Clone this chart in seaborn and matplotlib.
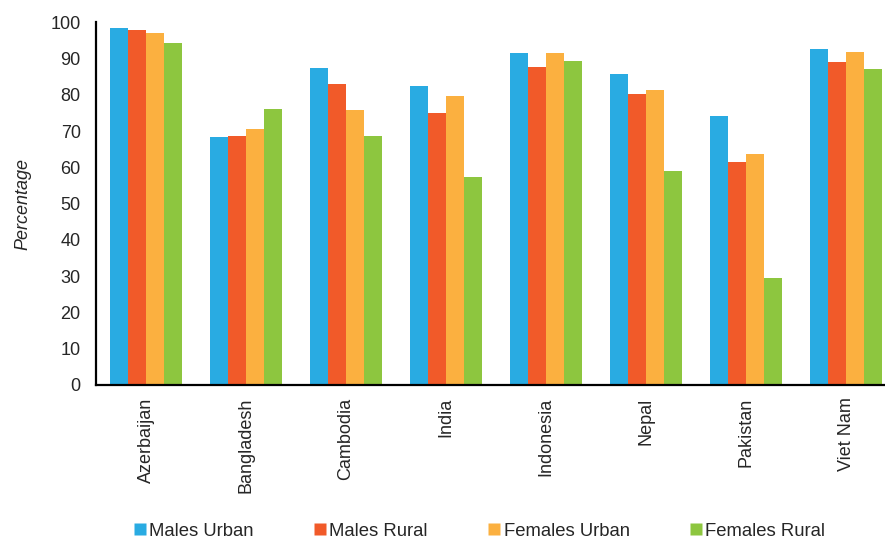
import pandas as pd
import matplotlib.pyplot as plt
import seaborn as sns
from matplotlib.lines import Line2D

# Data
countries = ["Azerbaijan", "Bangladesh", "Cambodia", "India", "Indonesia", "Nepal", "Pakistan", "Viet Nam"]
series = ["Males Urban", "Males Rural", "Females Urban", "Females Rural"]
males_urban = [98.4, 68.3, 87.5, 82.5, 91.4, 85.8, 74.1, 92.7]
males_rural = [97.9, 68.6, 83.0, 74.9, 87.8, 80.2, 61.4, 89.0]
females_urban = [97.0, 70.6, 75.8, 79.6, 91.4, 81.3, 63.8, 91.7]
females_rural = [94.2, 76.0, 68.6, 57.3, 89.3, 58.9, 29.6, 87.2]
colors = ["#29ABE2", "#F15A29", "#FBB040", "#8DC63F"]

# Long format for seaborn
df = pd.DataFrame({
    "Country": countries * 4,
    "Group": [s for s in series for _ in countries],
    "Percentage": males_urban + males_rural + females_urban + females_rural,
})

sns.set_style("white")
plt.rcParams["font.family"] = ["Liberation Sans", "DejaVu Sans"]

fig = plt.figure(figsize=(8.85, 5.44), dpi=100)
ax = fig.add_axes([0.1085, 0.2923, 0.904, 0.6667])

sns.barplot(data=df, x="Country", y="Percentage", hue="Group",
            order=countries, hue_order=series, palette=colors,
            width=0.72, gap=0, saturation=1, edgecolor="none", ax=ax, legend=False)

ax.set_xlim(-0.5, len(countries) - 0.5)
ax.set_ylim(0, 100)
ax.set_yticks(range(0, 101, 10))
ax.set_xlabel("")
ax.set_ylabel("Percentage", fontsize=13, style="italic", labelpad=14)

# category labels at centres, tick marks at the boundaries
ax.set_xticks(range(len(countries)))
ax.set_xticklabels(countries, rotation=90, fontsize=13)
ax.tick_params(axis="x", which="major", length=0, pad=9)
ax.set_xticks([i - 0.5 for i in range(len(countries) + 1)], minor=True)
ax.tick_params(axis="x", which="minor", length=6, width=1.3, direction="out", color="black")
ax.tick_params(axis="y", length=6, width=1.3, direction="out", color="black", labelsize=13, pad=5)

for side in ["top", "right"]:
    ax.spines[side].set_visible(False)
for side in ["left", "bottom"]:
    ax.spines[side].set_color("black")
    ax.spines[side].set_linewidth(1.6)

handles = [Line2D([0], [0], marker="s", linestyle="none", markersize=8,
                  markerfacecolor=c, markeredgecolor="none") for c in colors]
fig.legend(handles, series, loc="center", bbox_to_anchor=(479 / 885, 1 - 531 / 544),
           ncol=4, frameon=False, fontsize=13.3, handletextpad=0.1,
           columnspacing=3.2, handlelength=0.8)

fig.savefig("out.png", dpi=100)
